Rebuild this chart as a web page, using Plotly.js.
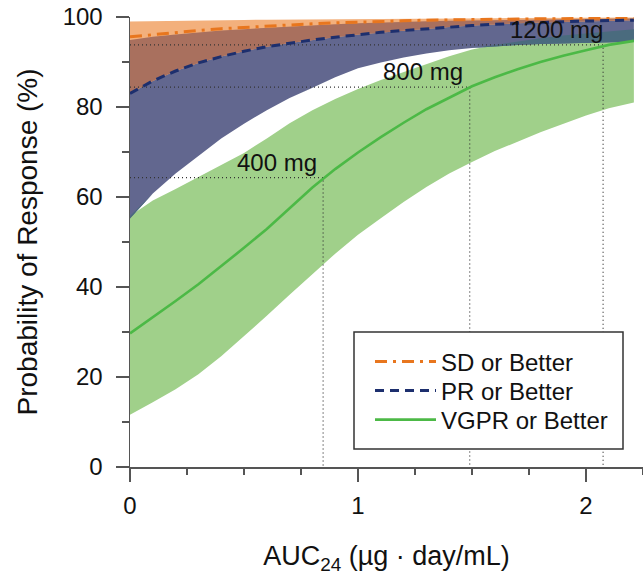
<!DOCTYPE html>
<html>
<head>
<meta charset="utf-8">
<script src="https://cdn.plot.ly/plotly-3.0.1.min.js"></script>
<style>
  html, body { margin: 0; padding: 0; background: #ffffff; }
  #chart { width: 643px; height: 575px; }
</style>
</head>
<body>
<div id="chart"></div>
<script>
// Exposure grid: AUC24 (µg·day/mL)
const auc = [0, 0.1, 0.2, 0.3, 0.4, 0.5, 0.6, 0.7, 0.8, 0.9, 1.0, 1.1,
             1.2, 1.3, 1.4, 1.5, 1.6, 1.7, 1.8, 1.9, 2.0, 2.1, 2.21];

// SD or Better: median and interval (%)
const sdMid  = [95.6, 96.1, 96.6, 97.0, 97.4, 97.7, 98.0, 98.3, 98.5, 98.7, 98.9, 99.0,
                99.15, 99.3, 99.4, 99.45, 99.5, 99.55, 99.6, 99.65, 99.7, 99.72, 99.75];
const sdLow  = [83.0, 85.8, 88.0, 89.8, 91.2, 92.4, 93.4, 94.2, 94.9, 95.5, 96.1, 96.6,
                97.0, 97.4, 97.8, 98.1, 98.4, 98.6, 98.8, 99.0, 99.1, 99.2, 99.3];
const sdHigh = [99.0, 99.1, 99.2, 99.25, 99.3, 99.35, 99.4, 99.45, 99.5, 99.55, 99.6, 99.62,
                99.65, 99.68, 99.7, 99.72, 99.75, 99.78, 99.8, 99.82, 99.85, 99.87, 99.9];

// PR or Better: median and interval (%)
const prMid  = [83.0, 85.8, 88.0, 89.8, 91.2, 92.4, 93.4, 94.2, 94.9, 95.5, 96.1, 96.6,
                97.0, 97.4, 97.8, 98.1, 98.4, 98.6, 98.8, 99.0, 99.1, 99.2, 99.3];
const prLow  = [55.2, 60.8, 65.2, 69.0, 73.0, 76.3, 79.3, 82.0, 84.3, 86.6, 88.6, 89.9,
                91.0, 91.9, 92.6, 93.1, 93.5, 93.8, 94.0, 94.2, 94.3, 94.4, 94.5];
const prHigh = [94.9, 95.6, 96.1, 96.6, 97.0, 97.3, 97.6, 97.9, 98.2, 98.4, 98.6, 98.8,
                98.95, 99.05, 99.15, 99.25, 99.35, 99.4, 99.45, 99.5, 99.55, 99.6, 99.65];

// VGPR or Better: median and interval (%)
const vgprMid  = [29.7, 33.2, 36.9, 40.6, 44.6, 48.7, 52.9, 57.6, 62.1, 66.2, 69.9, 73.3,
                  76.5, 79.5, 82.1, 84.6, 86.6, 88.4, 90.0, 91.4, 92.6, 93.8, 94.7];
const vgprLow  = [11.6, 14.4, 17.3, 20.6, 24.6, 29.0, 33.6, 38.3, 42.9, 47.4, 51.6, 55.3,
                  58.9, 62.2, 65.2, 67.8, 70.2, 72.3, 74.4, 76.3, 78.1, 79.7, 81.0];
const vgprHigh = [55.8, 59.2, 61.8, 64.4, 67.1, 69.8, 73.0, 76.4, 79.3, 81.8, 84.0, 86.0,
                  87.8, 89.6, 91.3, 92.8, 93.8, 94.6, 95.3, 95.9, 96.4, 96.9, 97.3];

// Dose reference points on the VGPR median curve
const doseLabels = ['400 mg', '800 mg', '1200 mg'];
const doseAuc    = [0.847, 1.49, 2.075];
const doseProb   = [64.3, 84.4, 93.8];

// Tick labels
const xTicks = [0, 1, 2];
const yTicks = [0, 20, 40, 60, 80, 100];

const seriesNames = ['SD or Better', 'PR or Better', 'VGPR or Better'];

const FONT = 'Liberation Sans, Arial, sans-serif';

function band(lo, hi, color) {
  return {
    x: auc.concat(auc.slice().reverse()),
    y: hi.concat(lo.slice().reverse()),
    type: 'scatter', mode: 'lines', fill: 'toself',
    fillcolor: color, line: {width: 0},
    showlegend: false, hoverinfo: 'skip'
  };
}

// Overlap of two intervals, pointwise on the shared grid
function overlap(loA, hiA, loB, hiB) {
  const lo = loA.map((v, i) => Math.max(v, loB[i]));
  const hi = hiA.map((v, i) => Math.max(lo[i], Math.min(v, hiB[i])));
  return [lo, hi];
}

const brown = overlap(sdLow, sdHigh, prLow, prHigh);
const teal  = overlap(prLow, prHigh, vgprLow, vgprHigh);

const traces = [
  band(vgprLow, vgprHigh, '#a0d08a'),
  band(prLow, prHigh, '#62678f'),
  band(sdLow, sdHigh, '#f3b07c'),
  band(brown[0], brown[1], '#a9705e'),
  band(teal[0], teal[1], '#4a6b7e')
];

// Dotted guides from each dose point to both axes
doseAuc.forEach((d, i) => {
  traces.push({
    x: [0, d, d], y: [doseProb[i], doseProb[i], 0],
    type: 'scatter', mode: 'lines',
    line: {color: '#333333', width: 1.2, dash: '1px,3px'},
    showlegend: false, hoverinfo: 'skip'
  });
});

traces.push({
  x: auc, y: sdMid, name: seriesNames[0], type: 'scatter', mode: 'lines',
  legend: 'legend',
  line: {color: '#e8761e', width: 3, dash: '12px,6px,3px,6px'}
});
traces.push({
  x: auc, y: prMid, name: seriesNames[1], type: 'scatter', mode: 'lines',
  legend: 'legend2',
  line: {color: '#1d2f6e', width: 3, dash: '9px,6px'}
});
traces.push({
  x: auc, y: vgprMid, name: seriesNames[2], type: 'scatter', mode: 'lines',
  legend: 'legend3',
  line: {color: '#4cb946', width: 2.6}
});

const annotations = doseLabels.map((t, i) => ({
  x: doseAuc[i], y: doseProb[i], xref: 'x', yref: 'y',
  text: t, showarrow: false, xanchor: 'right', yanchor: 'bottom',
  xshift: [-4, -5, 2][i], yshift: 0,
  font: {family: FONT, size: 24, color: '#111111'}
}));

const plotW = 643 - 130;
const plotH = 575 - 17 - 108;

// One single-entry legend per series, stacked inside the framed box
function legendAt(centerPy) {
  return {
    x: (370 - 130) / plotW, y: (467 - centerPy) / plotH,
    xanchor: 'left', yanchor: 'middle',
    bgcolor: 'rgba(0,0,0,0)', borderwidth: 0,
    font: {family: FONT, size: 24, color: '#111111'},
    itemwidth: 61
  };
}

const layout = {
  width: 643, height: 575,
  margin: {l: 130, r: 0, t: 17, b: 108, pad: 0},
  paper_bgcolor: '#ffffff', plot_bgcolor: '#ffffff',
  showlegend: true,
  hovermode: false,
  font: {family: FONT, size: 24, color: '#111111'},
  xaxis: {
    range: [0, 2.25], showgrid: false, zeroline: false,
    showline: true, linecolor: '#555555', linewidth: 1.5,
    ticks: 'outside', ticklen: 13, tickwidth: 1.5, tickcolor: '#555555',
    tickvals: xTicks, ticktext: xTicks.map(String),
    minor: {dtick: 0.25, tick0: 0, ticks: 'outside', ticklen: 6, tickwidth: 1.3, tickcolor: '#555555'},
    ticklabelstandoff: 4,
    tickfont: {family: FONT, size: 24, color: '#111111'},
    title: {text: 'AUC<sub>24</sub> (µg · day/mL)', standoff: 28,
            font: {family: FONT, size: 27, color: '#111111'}}
  },
  yaxis: {
    range: [0, 100], showgrid: false, zeroline: false,
    showline: true, linecolor: '#555555', linewidth: 1.5,
    ticks: 'outside', ticklen: 13, tickwidth: 1.5, tickcolor: '#555555',
    tickvals: yTicks, ticktext: yTicks.map(String),
    minor: {dtick: 10, tick0: 0, ticks: 'outside', ticklen: 7, tickwidth: 1.3, tickcolor: '#555555'},
    ticklabelstandoff: 8,
    tickfont: {family: FONT, size: 24, color: '#111111'},
    title: {text: 'Probability of Response (%)', standoff: 17,
            font: {family: FONT, size: 28, color: '#111111'}}
  },
  legend: legendAt(362),
  legend2: legendAt(391),
  legend3: legendAt(420),
  shapes: [
    // axis baseline continues a little to the left of x = 0
    {type: 'line', xref: 'paper', yref: 'y', x0: -12 / plotW, x1: 0, y0: 0, y1: 0,
     line: {color: '#555555', width: 1.5}},
    // legend frame
    {type: 'rect', xref: 'paper', yref: 'paper', layer: 'above',
     x0: (354 - 130) / plotW, x1: (623 - 130) / plotW,
     y0: (467 - 449) / plotH, y1: (467 - 332) / plotH,
     fillcolor: '#ffffff', line: {color: '#333333', width: 1.5}}
  ],
  annotations: annotations
};

Plotly.newPlot('chart', traces, layout, {staticPlot: true, displayModeBar: false});
</script>
</body>
</html>
